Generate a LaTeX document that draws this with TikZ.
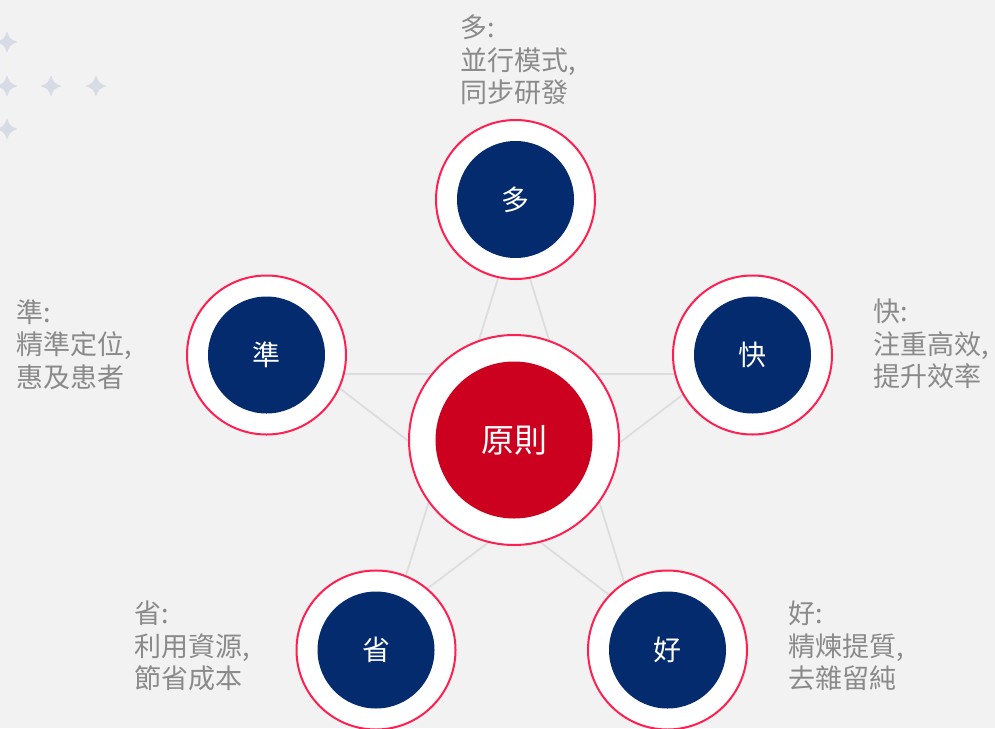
\documentclass[tikz,border=0pt]{standalone}
\usepackage{fontspec}
\newfontfamily\cjk{Noto Sans CJK TC}
\definecolor{navy}{HTML}{032B6E}
\definecolor{hubred}{HTML}{CC001F}
\definecolor{ringred}{HTML}{FF2052}
\definecolor{notegray}{HTML}{8A8A8A}
\definecolor{spark}{HTML}{D6DBE6}
\definecolor{bg}{HTML}{F2F2F2}
\definecolor{web}{HTML}{DDDDDD}

\begin{document}
\begin{tikzpicture}[x=1pt, y=-1pt,
	ring/.style={circle, draw=ringred, line width=2pt, fill=white, minimum size=159pt, inner sep=0pt},
	core/.style={circle, fill=navy, minimum size=117pt, inner sep=0pt, text=white, font=\cjk\fontsize{28}{32}\selectfont},
	hubring/.style={ring, minimum size=210pt},
	hubcore/.style={core, fill=hubred, minimum size=157pt, font=\cjk\fontsize{33}{38}\selectfont},
	notetext/.style={anchor=north west, inner sep=0pt, align=left, text=notegray, font=\cjk\fontsize{27}{32.5}\selectfont}]

	% background
	\fill [bg] (0, 0) rectangle (995, 728);
	\useasboundingbox (0, 0) rectangle (995, 728);

	% sparkles
	\fill [spark, shift={(7, 42)}] (0, -10.5) .. controls (3, -3) .. (10.5, 0) .. controls (3, 3) .. (0, 10.5) .. controls (-3, 3) .. (-10.5, 0) .. controls (-3, -3) .. (0, -10.5) -- cycle;
	\fill [spark, shift={(7, 86)}] (0, -10.5) .. controls (3, -3) .. (10.5, 0) .. controls (3, 3) .. (0, 10.5) .. controls (-3, 3) .. (-10.5, 0) .. controls (-3, -3) .. (0, -10.5) -- cycle;
	\fill [spark, shift={(51, 86)}] (0, -10.5) .. controls (3, -3) .. (10.5, 0) .. controls (3, 3) .. (0, 10.5) .. controls (-3, 3) .. (-10.5, 0) .. controls (-3, -3) .. (0, -10.5) -- cycle;
	\fill [spark, shift={(96, 86)}] (0, -10.5) .. controls (3, -3) .. (10.5, 0) .. controls (3, 3) .. (0, 10.5) .. controls (-3, 3) .. (-10.5, 0) .. controls (-3, -3) .. (0, -10.5) -- cycle;
	\fill [spark, shift={(7, 129)}] (0, -10.5) .. controls (3, -3) .. (10.5, 0) .. controls (3, 3) .. (0, 10.5) .. controls (-3, 3) .. (-10.5, 0) .. controls (-3, -3) .. (0, -10.5) -- cycle;

	% star lines
	\coordinate (top) at (514, 227);
	\coordinate (left) at (321, 374);
	\coordinate (right) at (710, 374);
	\coordinate (lowleft) at (394, 614);
	\coordinate (lowright) at (634, 614);
	\draw [web, line width=1.8pt] (top) -- (lowleft) -- (right) -- (left) -- (lowright) -- cycle;

	% circles
	\node[hubring] (hub-r) at (514, 440) {};
	\node[hubcore] (hub) at (hub-r) {原則};

	\node[ring] (many-r) at (515.5, 199.5) {};
	\node[core] (many) at (many-r) {多};

	\node[ring] (exact-r) at (266.5, 355) {};
	\node[core] (exact) at (exact-r) {準};

	\node[ring] (fast-r) at (752.5, 355) {};
	\node[core] (fast) at (fast-r) {快};

	\node[ring] (save-r) at (376, 650) {};
	\node[core] (save) at (save-r) {省};

	\node[ring] (good-r) at (667.5, 650) {};
	\node[core] (good) at (good-r) {好};

	% labels
	\node[notetext] (many-note) at (460, 15) {多:\\並行模式,\\同步研發};
	\node[notetext] (exact-note) at (16, 299) {準:\\精準定位,\\惠及患者};
	\node[notetext] (fast-note) at (873, 299) {快:\\注重高效,\\提升效率};
	\node[notetext] (save-note) at (134, 601) {省:\\利用資源,\\節省成本};
	\node[notetext] (good-note) at (788, 601) {好:\\精煉提質,\\去雜留純};
\end{tikzpicture}
\end{document}
